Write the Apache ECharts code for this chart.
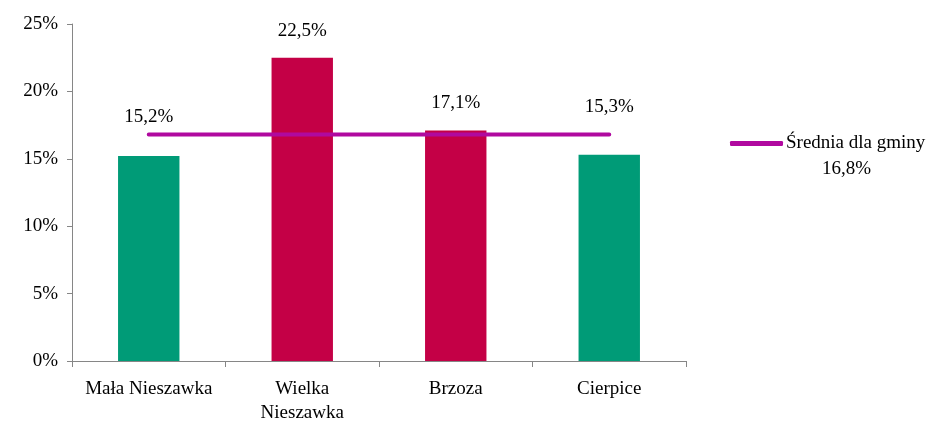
<!DOCTYPE html>
<html>
<head>
<meta charset="utf-8">
<script src="https://cdn.jsdelivr.net/npm/echarts@6/dist/echarts.min.js"></script>
<style>html,body{margin:0;padding:0;background:#fff}#c{width:952px;height:425px}</style>
</head>
<body>
<div id="c"></div>
<script>
const categories = ['Mała Nieszawka', 'Wielka Nieszawka', 'Brzoza', 'Cierpice'];
const values = [15.2, 22.5, 17.1, 15.3];
const average = 16.8;
const averageName = 'Średnia dla gminy';
const yTicks = [0, 5, 10, 15, 20, 25];

const GREEN = '#009B77', RED = '#C40046', PURPLE = '#B0099F';
const FONT = '"Liberation Serif", "DejaVu Serif", serif';
const FS = 19;
const fmt = v => v.toFixed(1).replace('.', ',') + '%';

const labelDist = [30, 17, 18, 38];
const barData = values.map((v, i) => ({
  value: v,
  itemStyle: { color: v > average ? RED : GREEN },
  label: { distance: labelDist[i] }
}));

const chart = echarts.init(document.getElementById('c'), null, { renderer: 'canvas' });
chart.setOption({
  animation: false,
  textStyle: { fontFamily: FONT },
  grid: { left: 72, right: 266, top: 24, bottom: 63 },
  xAxis: {
    type: 'category',
    data: categories,
    axisLine: { lineStyle: { color: '#868686', width: 1 } },
    axisTick: { show: true, interval: 0, length: 6, lineStyle: { color: '#868686' } },
    axisLabel: {
      interval: 0,
      color: '#000', fontFamily: FONT, fontSize: FS, margin: 16, lineHeight: 24,
      formatter: s => s.length > 14 ? s.replace(' ', '\n') : s
    }
  },
  yAxis: {
    type: 'value',
    min: yTicks[0], max: yTicks[yTicks.length - 1], interval: 5,
    splitLine: { show: false },
    axisLine: { show: true, lineStyle: { color: '#868686', width: 1 } },
    axisTick: { show: true, length: 5, lineStyle: { color: '#868686' } },
    axisLabel: { color: '#000', fontFamily: FONT, fontSize: FS, margin: 14, formatter: v => v + '%' }
  },
  legend: {
    left: 725, top: 129,
    itemWidth: 53, itemHeight: 5, itemGap: 0,
    icon: 'roundRect',
    textStyle: { color: '#000', fontFamily: FONT, fontSize: FS, padding: [0, 0, 0, -2] },
    data: [{ name: averageName, itemStyle: { color: PURPLE } }]
  },
  graphic: [{
    type: 'text', left: 822, top: 160,
    style: { text: fmt(average), fill: '#000', fontFamily: FONT, fontSize: FS }
  }],
  series: [
    {
      type: 'bar',
      name: 'wartość',
      barWidth: '40%',
      data: barData,
      label: { show: true, position: 'top', color: '#000', fontFamily: FONT, fontSize: FS, formatter: p => fmt(p.value) },
      z: 2
    },
    {
      type: 'line',
      name: averageName,
      data: categories.map(() => average),
      symbol: 'none',
      lineStyle: { color: PURPLE, width: 4, cap: 'round' },
      itemStyle: { color: PURPLE },
      z: 3
    }
  ]
});
</script>
</body>
</html>
